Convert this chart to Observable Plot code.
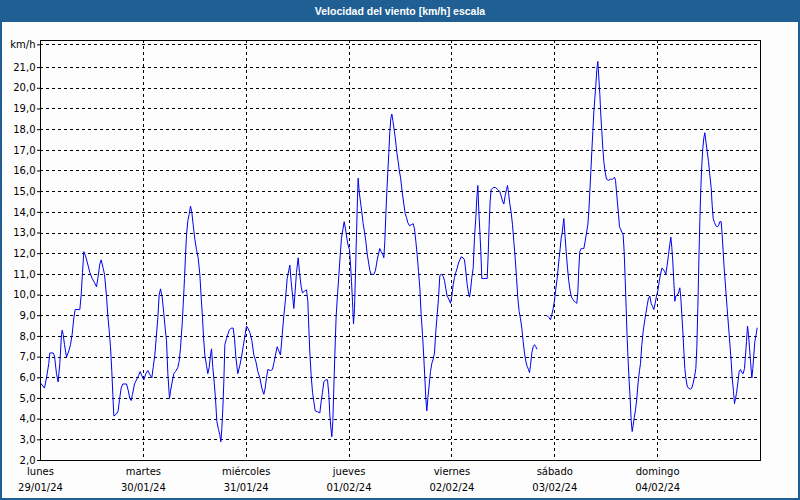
<!DOCTYPE html>
<html><head><meta charset="utf-8">
<script src="https://cdn.jsdelivr.net/npm/d3@7"></script>
<script src="https://cdn.jsdelivr.net/npm/@observablehq/plot@0.6"></script>
<style>
html,body{margin:0;padding:0;background:#fff;}
#wrap{position:relative;width:800px;height:500px;background:#fdfdfd;overflow:hidden;}
#title{position:absolute;left:0;top:0;width:800px;height:22px;background:#1f5f94;color:#fff;font:bold 10.5px "Liberation Sans",sans-serif;text-align:center;line-height:22px;}
#chart{position:absolute;left:0;top:22px;}
#border{position:absolute;left:0;top:0;width:800px;height:500px;box-sizing:border-box;border:2px solid #1f5f94;border-top:0;pointer-events:none;}
</style></head>
<body><div id="wrap"><div id="title">Velocidad del viento [km/h] escala</div><div id="chart"></div><div id="border"></div></div>
<script>
// hours since Monday 29/01/24 00:00, wind speed km/h
const monday = [[0,5.75],[0.93,5.5],[1.4,6.0],[1.94,6.7],[2.18,7.2],[2.96,7.2],[3.27,7.05],[3.73,6.2],[4.12,5.8],[4.51,6.7],[4.9,8.1],[5.06,8.3],[5.29,8.1],[5.6,7.6],[6.07,7.0],[6.61,7.3],[7.0,7.6],[7.39,8.1],[7.78,8.9],[8.09,9.3],[9.18,9.3],[9.49,10.0],[9.8,11.1],[10.11,12.1],[10.5,11.9],[10.89,11.6],[11.51,11.1],[12.06,10.8],[12.6,10.6],[13.07,10.4],[13.38,10.8],[13.84,11.5],[14.16,11.7],[14.62,11.3],[14.93,11.0],[15.4,9.95],[15.71,9.0],[16.02,8.3],[16.33,7.5],[16.64,6.3],[16.88,5.2],[17.11,4.15],[17.73,4.25],[18.12,4.4],[18.43,4.95],[18.82,5.5],[19.21,5.7],[20.07,5.7],[20.46,5.4],[20.84,5.0],[21.16,4.9],[21.47,5.2],[21.93,5.7],[22.4,5.9],[22.87,6.1],[23.26,6.3],[23.64,6.1]];
const tuesday = [[24.11,5.9],[24.58,6.2],[25.04,6.35],[25.51,6.15],[25.98,6.0],[26.29,6.5],[26.68,7.1],[26.99,7.9],[27.38,8.9],[27.69,10.0],[28.0,10.3],[28.39,9.9],[28.78,9.1],[29.09,8.4],[29.4,7.8],[29.71,6.2],[30.1,5.0],[30.33,5.35],[30.72,5.8],[31.11,6.2],[31.5,6.3],[32.04,6.5],[32.36,6.8],[32.67,7.45],[33.06,8.6],[33.29,9.5],[33.6,10.8],[33.83,11.9],[34.07,12.9],[34.38,13.6],[34.69,13.9],[35.0,14.3],[35.31,14.0],[35.62,13.4],[36.01,12.7],[36.4,12.2],[36.79,11.8],[37.18,11.0],[37.49,9.9],[37.8,8.9],[38.03,8.0],[38.34,7.1],[38.73,6.6],[39.04,6.2],[39.36,6.5],[39.67,7.1],[39.9,7.4],[40.21,6.5],[40.52,5.8],[40.83,5.0],[41.14,3.9],[41.53,3.5],[41.84,3.25],[42.08,2.9],[42.31,3.55],[42.54,4.5],[42.78,5.8],[43.01,7.6],[43.4,7.9],[43.71,8.1],[44.02,8.3],[44.49,8.4],[44.96,8.4],[45.27,7.9],[45.58,7.0],[46.04,6.2],[46.51,6.6],[46.9,7.0],[47.29,7.5],[47.76,8.1]];
const wednesday = [[48.07,8.5],[48.38,8.4],[48.84,8.2],[49.31,7.8],[49.78,7.1],[50.24,6.8],[50.71,6.3],[51.18,6.0],[51.64,5.5],[52.11,5.2],[52.42,5.5],[52.73,6.0],[53.04,6.4],[53.67,6.35],[54.13,6.4],[54.44,6.7],[54.83,7.1],[55.22,7.5],[55.61,7.3],[56.0,7.1],[56.39,8.05],[56.78,9.0],[57.17,9.8],[57.56,10.8],[57.94,11.2],[58.18,11.45],[58.49,10.65],[58.8,10.0],[59.11,9.35],[59.42,10.2],[59.73,11.1],[60.12,11.8],[60.43,11.1],[60.82,10.4],[61.13,10.1],[61.6,10.2],[62.07,10.25],[62.38,9.7],[62.61,8.4],[62.84,7.25],[63.16,6.1],[63.47,5.3],[63.78,4.85],[64.09,4.4],[64.71,4.35],[65.18,4.3],[65.49,4.85],[65.8,5.3],[66.11,5.8],[66.5,5.9],[66.97,5.9],[67.28,5.2],[67.51,4.2],[67.74,3.6],[67.98,3.15],[68.21,3.9],[68.44,5.5],[68.68,7.1],[68.99,9.0],[69.3,10.0],[69.61,10.95],[69.92,11.9],[70.23,12.75],[70.54,13.15],[70.86,13.55],[71.17,13.2],[71.48,12.75],[71.79,12.4]];
const thursday = [[72.1,12.2],[72.33,11.5],[72.57,10.65],[72.8,9.7],[73.03,8.6],[73.27,9.35],[73.5,11.1],[73.73,12.9],[73.97,14.7],[74.12,15.65],[74.36,15.0],[74.67,14.5],[74.98,14.0],[75.29,13.45],[75.6,13.05],[75.91,12.6],[76.22,12.0],[76.53,11.6],[76.84,11.2],[77.16,11.0],[77.78,11.0],[78.17,11.2],[78.56,11.7],[78.87,12.0],[79.18,12.25],[79.49,12.1],[79.88,11.95],[80.11,11.8],[80.34,12.6],[80.58,13.9],[80.81,15.0],[81.04,15.95],[81.28,16.9],[81.51,17.9],[81.74,18.55],[81.98,18.75],[82.21,18.45],[82.52,18.0],[82.83,17.5],[83.14,16.9],[83.46,16.45],[83.77,15.95],[84.0,15.7],[84.39,15.0],[84.78,14.4],[85.09,13.95],[85.4,13.75],[85.71,13.5],[86.1,13.35],[86.49,13.4],[86.96,13.45],[87.27,13.2],[87.58,12.6],[87.89,11.95],[88.2,11.15],[88.51,10.35],[88.82,9.05],[89.13,8.1],[89.44,6.95],[89.68,6.0],[89.91,5.0],[90.14,4.4],[90.38,5.0],[90.69,5.65],[91.0,6.3],[91.31,6.7],[91.62,6.9],[91.93,7.2],[92.24,8.25],[92.56,9.05],[92.87,9.85],[93.18,10.95],[93.49,11.0],[93.96,10.9],[94.27,10.7],[94.58,10.3],[94.89,9.95],[95.28,9.8],[95.67,9.6],[95.98,9.95]];
const friday = [[96.29,10.5],[96.6,10.85],[96.91,11.1],[97.22,11.3],[97.53,11.55],[97.84,11.7],[98.16,11.85],[98.62,11.8],[98.93,11.7],[99.24,11.15],[99.56,10.5],[99.87,10.1],[100.1,9.9],[100.33,10.2],[100.64,10.85],[100.96,11.3],[101.27,12.8],[101.58,13.75],[101.81,14.7],[102.04,15.3],[102.28,14.05],[102.51,13.1],[102.74,12.1],[102.98,10.8],[103.44,10.8],[103.91,10.8],[104.22,10.8],[104.46,11.95],[104.69,13.4],[104.92,14.55],[105.16,15.1],[105.62,15.2],[106.17,15.2],[106.71,15.1],[107.18,15.0],[107.49,14.8],[107.8,14.55],[108.11,14.4],[108.42,14.8],[108.73,15.1],[108.97,15.3],[109.2,14.95],[109.51,14.4],[109.82,14.0],[110.13,13.4],[110.44,12.6],[110.76,11.8],[111.07,10.85],[111.38,9.85],[111.69,9.2],[112.0,8.85],[112.31,8.4],[112.62,7.75],[112.93,7.2],[113.24,6.8],[113.56,6.55],[113.87,6.4],[114.1,6.25],[114.33,6.6],[114.64,7.2],[114.96,7.5],[115.27,7.6],[115.58,7.5],[115.81,7.4]];
const missing = [[117, NaN]];
const saturday = [[118.22,9.0],[118.69,8.9],[119.0,8.8],[119.31,9.05],[119.62,9.35],[119.93,9.75],[120.24,10.3],[120.56,10.8],[120.79,11.3],[121.02,11.8],[121.26,12.25],[121.49,12.75],[121.72,13.0],[121.96,13.45],[122.11,13.7],[122.34,13.0],[122.66,12.1],[122.97,11.3],[123.28,10.65],[123.59,10.2],[123.9,9.9],[124.21,9.8],[124.52,9.7],[124.83,9.65],[125.14,9.6],[125.38,10.15],[125.61,11.3],[125.84,12.1],[126.16,12.25],[126.47,12.25],[126.78,12.25],[127.09,12.6],[127.4,13.0],[127.71,13.4],[127.94,14.05],[128.18,15.0],[128.41,15.95],[128.64,16.95],[128.88,17.9],[129.11,18.85],[129.34,19.5],[129.58,20.15],[129.81,20.9],[130.04,21.3],[130.28,20.5],[130.51,19.7],[130.74,18.7],[130.98,17.9],[131.21,17.1],[131.44,16.45],[131.76,15.95],[132.07,15.6],[132.53,15.55],[133.0,15.6],[133.47,15.6],[133.93,15.7],[134.17,15.55],[134.4,15.0],[134.63,14.45],[134.87,13.9],[135.1,13.3],[135.33,13.2],[135.64,13.05],[135.96,12.9],[136.19,12.1],[136.42,10.8],[136.66,9.35],[136.89,7.9],[137.12,6.8],[137.36,5.8],[137.59,5.0],[137.82,3.95],[138.06,3.4],[138.29,3.7],[138.52,4.05],[138.83,4.45],[139.14,5.0],[139.46,5.8],[139.77,6.35],[140.0,6.7],[140.31,7.6],[140.62,8.25],[140.93,8.7],[141.24,9.1],[141.56,9.5],[141.87,9.85],[142.18,9.95],[142.49,9.6],[142.8,9.45],[143.11,9.3],[143.42,9.6],[143.73,9.95]];
const sunday = [[144.04,10.2],[144.36,10.65],[144.67,11.0],[144.98,11.3],[145.29,11.25],[145.6,11.15],[145.91,11.0],[146.22,11.45],[146.53,11.95],[146.84,12.45],[147.08,12.8],[147.31,12.3],[147.54,11.6],[147.78,10.65],[148.01,9.7],[148.24,9.95],[148.56,10.0],[148.87,10.1],[149.18,10.35],[149.41,9.85],[149.64,9.05],[149.88,8.25],[150.11,7.3],[150.34,6.45],[150.58,6.0],[150.89,5.6],[151.2,5.5],[151.67,5.45],[151.98,5.5],[152.29,5.75],[152.6,6.05],[152.91,6.45],[153.14,7.45],[153.38,9.4],[153.61,11.6],[153.84,13.55],[154.08,15.2],[154.31,16.3],[154.54,17.1],[154.78,17.6],[155.01,17.85],[155.24,17.45],[155.56,16.95],[155.87,16.45],[156.18,15.8],[156.49,15.2],[156.72,14.35],[156.96,13.7],[157.27,13.5],[157.58,13.35],[157.89,13.3],[158.2,13.35],[158.51,13.55],[158.82,13.55],[159.06,12.9],[159.29,12.1],[159.52,11.3],[159.76,10.65],[159.99,10.0],[160.22,9.35],[160.46,8.7],[160.69,8.1],[160.92,7.45],[161.16,6.8],[161.39,6.0],[161.7,5.35],[161.93,4.75],[162.17,5.0],[162.4,5.25],[162.71,5.75],[163.02,6.3],[163.33,6.4],[163.64,6.25],[163.96,6.2],[164.27,6.45],[164.5,7.1],[164.73,7.75],[164.97,8.5],[165.2,8.1],[165.43,7.45],[165.67,6.8],[165.98,6.0],[166.21,6.45],[166.44,7.1],[166.68,7.75],[166.99,8.1],[167.22,8.4]];

const dayNames = ["lunes","martes","miércoles","jueves","viernes","sábado","domingo"];
const dayDates = ["29/01/24","30/01/24","31/01/24","01/02/24","02/02/24","03/02/24","04/02/24"];
const yTicks = [2,3,4,5,6,7,8,9,10,11,12,13,14,15,16,17,18,19,20,21];
const unitTick = 22.1;
const yMax = 22.31;
const hoursPerDay = 24;

const rows = [...monday, ...tuesday, ...wednesday, ...thursday, ...friday, ...missing, ...saturday, ...sunday]
  .map(([h, v]) => ({h, v}));
const dayStarts = dayNames.map((_, i) => i * hoursPerDay);
const fmt = d => d === unitTick ? "km/h" : d.toFixed(1).replace(".", ",");
const dash = "3,3";

const chart = Plot.plot({
  width: 800, height: 478,
  marginLeft: 40, marginRight: 40, marginTop: 18, marginBottom: 40,
  style: {fontFamily: "DejaVu Sans, sans-serif", fontSize: "10px", color: "#000", background: "transparent", overflow: "visible"},
  x: {domain: [0, dayNames.length * hoursPerDay], axis: null},
  y: {domain: [2, yMax], axis: null},
  marks: [
    Plot.ruleY([...yTicks, unitTick], {stroke: "#000", strokeDasharray: dash, shapeRendering: "crispEdges"}),
    Plot.ruleX(dayStarts.slice(1), {stroke: "#000", strokeDasharray: dash, shapeRendering: "crispEdges"}),
    Plot.axisY([...yTicks, unitTick], {tickFormat: fmt, tickSize: 3, tickPadding: 2, stroke: "#000", fill: "#000", fontSize: 10, label: null}),
    Plot.frame({stroke: "#000", shapeRendering: "crispEdges"}),
    Plot.line(rows, {x: "h", y: "v", stroke: "#0000f0", strokeWidth: 1}),
    Plot.text(dayStarts, {x: d => d, frameAnchor: "bottom", text: (d, i) => dayNames[i], dy: 14, fill: "#000", fontSize: 10}),
    Plot.text(dayStarts, {x: d => d, frameAnchor: "bottom", text: (d, i) => dayDates[i], dy: 30, fill: "#000", fontSize: 10})
  ]
});
document.getElementById("chart").appendChild(chart);
</script>
</body></html>
